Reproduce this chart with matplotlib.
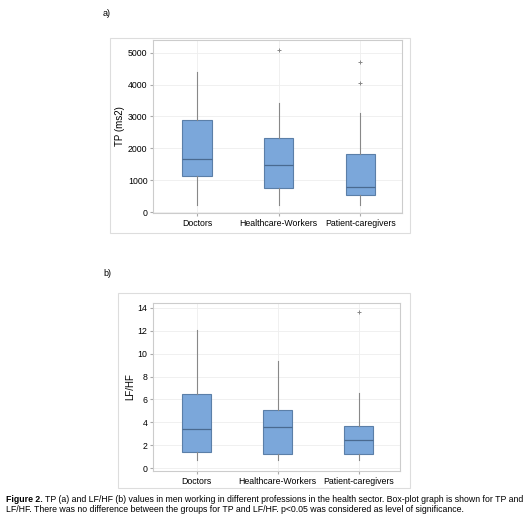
import matplotlib
matplotlib.use("Agg")
import matplotlib.pyplot as plt
from matplotlib.patches import Rectangle

categories = ["Doctors", "Healthcare-Workers", "Patient-caregivers"]
tp_min = [220, 220, 220]
tp_q1 = [1120, 760, 520]
tp_med = [1650, 1470, 780]
tp_q3 = [2880, 2320, 1820]
tp_max = [4400, 3420, 3120]
tp_out = [[], [5100], [4050, 4700]]
lf_min = [0.7, 0.7, 0.7]
lf_q1 = [1.4, 1.2, 1.2]
lf_med = [3.45, 3.55, 2.45]
lf_q3 = [6.5, 5.05, 3.7]
lf_max = [12.05, 9.35, 6.55]
lf_out = [[], [], [13.65]]

W, H = 532, 524
fig = plt.figure(figsize=(W/100, H/100), dpi=100)
plt.rcParams['font.family'] = ['Liberation Sans', 'DejaVu Sans']

def frame(x0, y0, x1, y1):
    fig.patches.append(Rectangle((x0/W, 1-y1/H), (x1-x0)/W, (y1-y0)/H, transform=fig.transFigure,
                                 fill=False, edgecolor='#dddddd', linewidth=0.8))

def panel(box, mins, q1, med, q3, mx, outs, ylim, yticks, ylabel):
    x0, y0, x1, y1 = box
    ax = fig.add_axes([x0/W, 1-y1/H, (x1-x0)/W, (y1-y0)/H])
    stats = [dict(whislo=a, q1=b, med=c, q3=d, whishi=e, fliers=f, label=l)
             for a, b, c, d, e, f, l in zip(mins, q1, med, q3, mx, outs, categories)]
    ax.bxp(stats, positions=[0, 1, 2], widths=0.36, patch_artist=True, showcaps=False,
           boxprops=dict(facecolor='#7ba7da', edgecolor='#5b7fa8', linewidth=0.8),
           medianprops=dict(color='#4a6a90', linewidth=0.9),
           whiskerprops=dict(color='#888888', linewidth=0.8),
           flierprops=dict(marker='+', markersize=3, markeredgecolor='#888888', markeredgewidth=0.7))
    ax.set_xlim(-0.54, 2.51)
    ax.set_ylim(*ylim)
    ax.set_yticks(yticks)
    ax.grid(True, color='#eeeeee', linewidth=0.6)
    ax.set_axisbelow(True)
    for s in ax.spines.values():
        s.set_color('#cccccc'); s.set_linewidth(0.8)
    ax.tick_params(labelsize=6.3, length=2, color='#aaaaaa', pad=2)
    ax.set_ylabel(ylabel, fontsize=7, labelpad=2)
    return ax

frame(110, 38, 410, 233)
panel((153, 40, 402, 213), tp_min, tp_q1, tp_med, tp_q3, tp_max, tp_out,
      (-30, 5400), [0, 1000, 2000, 3000, 4000, 5000], 'TP (ms2)')
frame(118, 293, 410, 488)
panel((153, 303, 400, 471), lf_min, lf_q1, lf_med, lf_q3, lf_max, lf_out,
      (-0.26, 14.43), [0, 2, 4, 6, 8, 10, 12, 14], 'LF/HF')

fig.text(103/W, 1-14/H, 'a)', fontsize=6.5, va='center')
fig.text(103/W, 1-274/H, 'b)', fontsize=6.5, va='center')

t1 = fig.text(6/W, 1-500/H, 'Figure 2.', fontsize=6.3, fontweight='bold', va='center')
fig.canvas.draw()
bb = t1.get_window_extent()
fig.text((bb.x1 + 2)/W, 1-500/H, 'TP (a) and LF/HF (b) values in men working in different professions in the health sector. Box-plot graph is shown for TP and',
         fontsize=6.3, va='center')
fig.text(6/W, 1-510/H, 'LF/HF. There was no difference between the groups for TP and LF/HF. p<0.05 was considered as level of significance.',
         fontsize=6.3, va='center')

fig.savefig('out.png', dpi=100)
